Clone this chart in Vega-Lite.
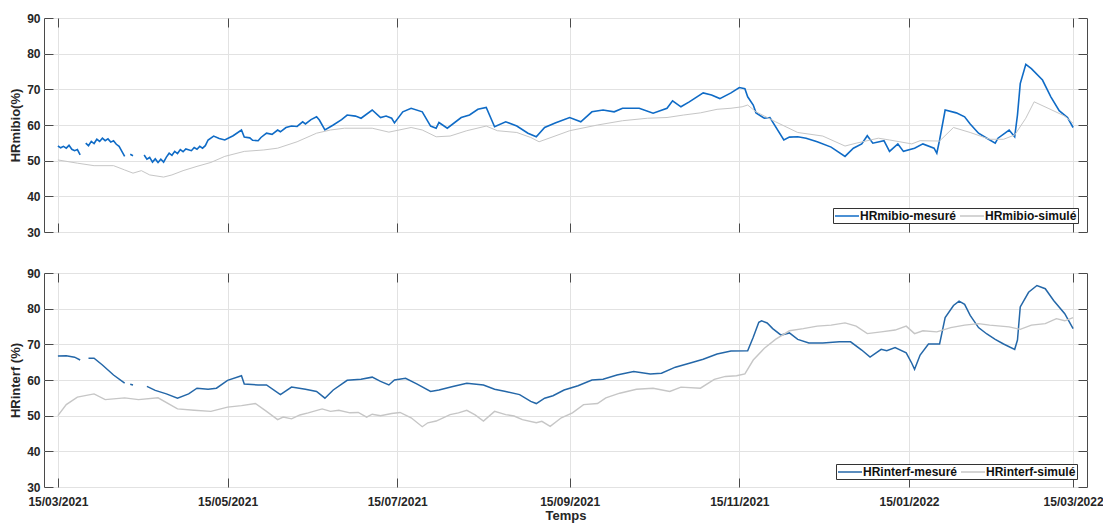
{
  "$schema": "https://vega.github.io/schema/vega-lite/v6.json",
  "background": "white",
  "padding": {"left": 9, "top": 11, "right": 5, "bottom": 2},
  "bounds": "flush",
  "spacing": 41,
  "config": {
    "font": "Liberation Sans",
    "view": {"stroke": "#4a4a4a", "strokeWidth": 1},
    "axis": {
      "domain": false,
      "gridColor": "#e2e2e2",
      "gridWidth": 1,
      "tickColor": "#4a4a4a",
      "tickSize": -9,
      "labelFont": "Liberation Sans",
      "labelFontWeight": "bold",
      "labelFontSize": 12,
      "labelColor": "#262626",
      "titleFont": "Liberation Sans",
      "titleFontWeight": "bold",
      "titleFontSize": 13,
      "titleColor": "#262626"
    },
    "legend": {
      "orient": "none",
      "direction": "horizontal",
      "gridAlign": "none",
      "symbolType": "M-1,0H3",
      "symbolSize": 144,
      "symbolStrokeWidth": 1.5,
      "labelFont": "Liberation Sans",
      "labelFontWeight": "bold",
      "labelFontSize": 12,
      "labelColor": "#111111",
      "strokeColor": "#333333",
      "fillColor": "white",
      "padding": 1,
      "columnPadding": 0,
      "labelOffset": 12
    }
  },
  "datasets": {
    "m1": [
      {"d": "2021-03-15", "v": 54.1}, {"d": "2021-03-16", "v": 53.6}, {"d": "2021-03-17", "v": 54.0}, {"d": "2021-03-18", "v": 53.5}, {"d": "2021-03-19", "v": 54.3}, {"d": "2021-03-20", "v": 53.2}, {"d": "2021-03-21", "v": 52.8}, {"d": "2021-03-22", "v": 53.1}, {"d": "2021-03-23", "v": 51.6}, {"d": "2021-03-24", "v": null},
      {"d": "2021-03-25", "v": 54.9}, {"d": "2021-03-26", "v": 54.2}, {"d": "2021-03-27", "v": 55.4}, {"d": "2021-03-28", "v": 54.8}, {"d": "2021-03-29", "v": 56.0}, {"d": "2021-03-30", "v": 55.4}, {"d": "2021-03-31", "v": 56.3}, {"d": "2021-04-01", "v": 55.6}, {"d": "2021-04-02", "v": 56.1}, {"d": "2021-04-03", "v": 55.2}, {"d": "2021-04-04", "v": 55.6}, {"d": "2021-04-05", "v": 54.6}, {"d": "2021-04-06", "v": 54.0}, {"d": "2021-04-07", "v": 52.6}, {"d": "2021-04-08", "v": 51.2}, {"d": "2021-04-09", "v": null},
      {"d": "2021-04-10", "v": 51.8}, {"d": "2021-04-11", "v": 51.4}, {"d": "2021-04-13", "v": null},
      {"d": "2021-04-15", "v": 51.6}, {"d": "2021-04-16", "v": 50.4}, {"d": "2021-04-17", "v": 50.9}, {"d": "2021-04-18", "v": 49.6}, {"d": "2021-04-19", "v": 50.5}, {"d": "2021-04-20", "v": 49.5}, {"d": "2021-04-21", "v": 50.4}, {"d": "2021-04-22", "v": 49.6}, {"d": "2021-04-23", "v": 51.0}, {"d": "2021-04-24", "v": 52.1}, {"d": "2021-04-25", "v": 51.5}, {"d": "2021-04-26", "v": 52.6}, {"d": "2021-04-27", "v": 52.0}, {"d": "2021-04-28", "v": 53.1}, {"d": "2021-04-29", "v": 52.5}, {"d": "2021-04-30", "v": 53.3},
      {"d": "2021-05-02", "v": 52.8}, {"d": "2021-05-03", "v": 53.7}, {"d": "2021-05-04", "v": 53.2}, {"d": "2021-05-05", "v": 54.0}, {"d": "2021-05-06", "v": 53.5}, {"d": "2021-05-07", "v": 54.2}, {"d": "2021-05-08", "v": 55.8}, {"d": "2021-05-10", "v": 56.9}, {"d": "2021-05-12", "v": 56.2}, {"d": "2021-05-14", "v": 55.8}, {"d": "2021-05-17", "v": 57.0}, {"d": "2021-05-20", "v": 58.6}, {"d": "2021-05-21", "v": 56.6}, {"d": "2021-05-23", "v": 56.4}, {"d": "2021-05-24", "v": 55.7}, {"d": "2021-05-26", "v": 55.6}, {"d": "2021-05-27", "v": 56.5}, {"d": "2021-05-29", "v": 57.7}, {"d": "2021-05-31", "v": 57.4},
      {"d": "2021-06-02", "v": 58.6}, {"d": "2021-06-03", "v": 58.1}, {"d": "2021-06-05", "v": 59.3}, {"d": "2021-06-07", "v": 59.7}, {"d": "2021-06-09", "v": 59.6}, {"d": "2021-06-11", "v": 60.9}, {"d": "2021-06-12", "v": 60.3}, {"d": "2021-06-14", "v": 61.5}, {"d": "2021-06-16", "v": 62.3}, {"d": "2021-06-17", "v": 61.4}, {"d": "2021-06-19", "v": 58.6}, {"d": "2021-06-22", "v": 60.0}, {"d": "2021-06-25", "v": 61.5}, {"d": "2021-06-27", "v": 62.8}, {"d": "2021-06-30", "v": 62.5},
      {"d": "2021-07-02", "v": 61.9}, {"d": "2021-07-06", "v": 64.2}, {"d": "2021-07-09", "v": 62.1}, {"d": "2021-07-11", "v": 62.5}, {"d": "2021-07-13", "v": 61.9}, {"d": "2021-07-14", "v": 60.6}, {"d": "2021-07-17", "v": 63.7}, {"d": "2021-07-20", "v": 64.7}, {"d": "2021-07-24", "v": 63.7}, {"d": "2021-07-27", "v": 59.7}, {"d": "2021-07-29", "v": 59.1}, {"d": "2021-07-30", "v": 60.7},
      {"d": "2021-08-02", "v": 59.1}, {"d": "2021-08-07", "v": 62.1}, {"d": "2021-08-10", "v": 62.8}, {"d": "2021-08-13", "v": 64.4}, {"d": "2021-08-16", "v": 64.9}, {"d": "2021-08-19", "v": 59.5}, {"d": "2021-08-23", "v": 60.9}, {"d": "2021-08-27", "v": 59.7}, {"d": "2021-08-31", "v": 57.7},
      {"d": "2021-09-03", "v": 56.7}, {"d": "2021-09-06", "v": 59.3}, {"d": "2021-09-10", "v": 60.6}, {"d": "2021-09-15", "v": 62.1}, {"d": "2021-09-19", "v": 60.9}, {"d": "2021-09-23", "v": 63.7}, {"d": "2021-09-27", "v": 64.2},
      {"d": "2021-10-01", "v": 63.7}, {"d": "2021-10-04", "v": 64.7}, {"d": "2021-10-10", "v": 64.7}, {"d": "2021-10-15", "v": 63.3}, {"d": "2021-10-20", "v": 64.7}, {"d": "2021-10-22", "v": 66.8}, {"d": "2021-10-25", "v": 65.1}, {"d": "2021-10-28", "v": 66.5},
      {"d": "2021-11-02", "v": 69.0}, {"d": "2021-11-05", "v": 68.4}, {"d": "2021-11-08", "v": 67.4}, {"d": "2021-11-12", "v": 69.0}, {"d": "2021-11-15", "v": 70.5}, {"d": "2021-11-17", "v": 70.2}, {"d": "2021-11-18", "v": 67.9}, {"d": "2021-11-20", "v": 65.6}, {"d": "2021-11-21", "v": 63.4}, {"d": "2021-11-24", "v": 61.9}, {"d": "2021-11-26", "v": 62.1},
      {"d": "2021-12-01", "v": 55.8}, {"d": "2021-12-03", "v": 56.6}, {"d": "2021-12-06", "v": 56.7}, {"d": "2021-12-09", "v": 56.3}, {"d": "2021-12-13", "v": 55.3}, {"d": "2021-12-18", "v": 53.8}, {"d": "2021-12-23", "v": 51.2}, {"d": "2021-12-26", "v": 53.5}, {"d": "2021-12-29", "v": 54.7}, {"d": "2021-12-31", "v": 57.0},
      {"d": "2022-01-02", "v": 54.9}, {"d": "2022-01-06", "v": 55.6}, {"d": "2022-01-08", "v": 52.6}, {"d": "2022-01-11", "v": 54.7}, {"d": "2022-01-13", "v": 52.6}, {"d": "2022-01-17", "v": 53.5}, {"d": "2022-01-20", "v": 54.7}, {"d": "2022-01-24", "v": 53.5}, {"d": "2022-01-25", "v": 52.1}, {"d": "2022-01-26", "v": 55.8}, {"d": "2022-01-28", "v": 64.2},
      {"d": "2022-02-01", "v": 63.4}, {"d": "2022-02-04", "v": 62.3}, {"d": "2022-02-06", "v": 60.3}, {"d": "2022-02-09", "v": 57.7}, {"d": "2022-02-12", "v": 56.3}, {"d": "2022-02-15", "v": 54.9}, {"d": "2022-02-16", "v": 56.3}, {"d": "2022-02-20", "v": 58.6}, {"d": "2022-02-22", "v": 56.7}, {"d": "2022-02-23", "v": 62.8}, {"d": "2022-02-24", "v": 71.6}, {"d": "2022-02-26", "v": 77.0}, {"d": "2022-02-28", "v": 75.8},
      {"d": "2022-03-04", "v": 72.6}, {"d": "2022-03-07", "v": 67.9}, {"d": "2022-03-10", "v": 64.0}, {"d": "2022-03-13", "v": 62.1}, {"d": "2022-03-15", "v": 59.3}
    ],
    "s1": [
      {"d": "2021-03-15", "v": 50.2}, {"d": "2021-03-22", "v": 49.3}, {"d": "2021-03-28", "v": 48.6}, {"d": "2021-04-04", "v": 48.6}, {"d": "2021-04-08", "v": 47.4}, {"d": "2021-04-11", "v": 46.5}, {"d": "2021-04-14", "v": 47.2}, {"d": "2021-04-17", "v": 46.0}, {"d": "2021-04-22", "v": 45.4}, {"d": "2021-04-25", "v": 46.0}, {"d": "2021-04-29", "v": 47.2},
      {"d": "2021-05-04", "v": 48.4}, {"d": "2021-05-09", "v": 49.5}, {"d": "2021-05-14", "v": 51.2}, {"d": "2021-05-21", "v": 52.6}, {"d": "2021-05-28", "v": 53.0}, {"d": "2021-06-02", "v": 53.5}, {"d": "2021-06-09", "v": 55.3}, {"d": "2021-06-16", "v": 57.7}, {"d": "2021-06-21", "v": 58.6}, {"d": "2021-06-26", "v": 59.1},
      {"d": "2021-07-06", "v": 59.1}, {"d": "2021-07-12", "v": 58.0}, {"d": "2021-07-20", "v": 59.3}, {"d": "2021-07-24", "v": 58.6}, {"d": "2021-07-29", "v": 56.7}, {"d": "2021-08-03", "v": 56.9}, {"d": "2021-08-09", "v": 58.4}, {"d": "2021-08-16", "v": 59.7}, {"d": "2021-08-20", "v": 58.4}, {"d": "2021-08-27", "v": 57.9},
      {"d": "2021-09-01", "v": 56.5}, {"d": "2021-09-04", "v": 55.3}, {"d": "2021-09-09", "v": 56.7}, {"d": "2021-09-15", "v": 58.4}, {"d": "2021-09-25", "v": 60.0}, {"d": "2021-10-04", "v": 61.2}, {"d": "2021-10-13", "v": 61.9}, {"d": "2021-10-20", "v": 62.1}, {"d": "2021-10-26", "v": 62.8},
      {"d": "2021-11-01", "v": 63.4}, {"d": "2021-11-07", "v": 64.4}, {"d": "2021-11-12", "v": 64.7}, {"d": "2021-11-16", "v": 65.1}, {"d": "2021-11-18", "v": 65.6}, {"d": "2021-11-21", "v": 63.7}, {"d": "2021-11-28", "v": 60.9}, {"d": "2021-12-06", "v": 57.9}, {"d": "2021-12-15", "v": 56.9}, {"d": "2021-12-23", "v": 54.1}, {"d": "2021-12-27", "v": 54.9},
      {"d": "2022-01-04", "v": 56.3}, {"d": "2022-01-08", "v": 55.8}, {"d": "2022-01-16", "v": 54.7}, {"d": "2022-01-19", "v": 55.6}, {"d": "2022-01-26", "v": 55.5}, {"d": "2022-01-31", "v": 59.3}, {"d": "2022-02-06", "v": 57.9}, {"d": "2022-02-13", "v": 56.0}, {"d": "2022-02-18", "v": 56.0}, {"d": "2022-02-22", "v": 57.2}, {"d": "2022-02-26", "v": 61.9},
      {"d": "2022-03-01", "v": 66.5}, {"d": "2022-03-06", "v": 64.7}, {"d": "2022-03-12", "v": 62.5}, {"d": "2022-03-15", "v": 60.5}
    ],
    "m2": [
      {"d": "2021-03-15", "v": 66.7}, {"d": "2021-03-18", "v": 66.8}, {"d": "2021-03-21", "v": 66.4}, {"d": "2021-03-23", "v": 65.6}, {"d": "2021-03-24", "v": null},
      {"d": "2021-03-26", "v": 66.1}, {"d": "2021-03-28", "v": 66.1}, {"d": "2021-03-31", "v": 64.2}, {"d": "2021-04-04", "v": 61.4}, {"d": "2021-04-08", "v": 59.1}, {"d": "2021-04-09", "v": null},
      {"d": "2021-04-10", "v": 58.8}, {"d": "2021-04-11", "v": 58.6}, {"d": "2021-04-13", "v": null},
      {"d": "2021-04-16", "v": 58.2}, {"d": "2021-04-19", "v": 57.1}, {"d": "2021-04-23", "v": 56.1}, {"d": "2021-04-27", "v": 54.9}, {"d": "2021-05-01", "v": 56.1}, {"d": "2021-05-04", "v": 57.7}, {"d": "2021-05-08", "v": 57.4}, {"d": "2021-05-11", "v": 57.7}, {"d": "2021-05-15", "v": 59.9}, {"d": "2021-05-20", "v": 61.2}, {"d": "2021-05-21", "v": 58.9}, {"d": "2021-05-26", "v": 58.6}, {"d": "2021-05-29", "v": 58.6},
      {"d": "2021-06-03", "v": 55.9}, {"d": "2021-06-07", "v": 58.0}, {"d": "2021-06-12", "v": 57.4}, {"d": "2021-06-16", "v": 56.8}, {"d": "2021-06-19", "v": 54.9}, {"d": "2021-06-22", "v": 57.2}, {"d": "2021-06-27", "v": 59.9},
      {"d": "2021-07-02", "v": 60.2}, {"d": "2021-07-06", "v": 60.8}, {"d": "2021-07-09", "v": 59.6}, {"d": "2021-07-12", "v": 58.6}, {"d": "2021-07-14", "v": 60.0}, {"d": "2021-07-18", "v": 60.5}, {"d": "2021-07-22", "v": 58.9}, {"d": "2021-07-27", "v": 56.8}, {"d": "2021-07-30", "v": 57.2},
      {"d": "2021-08-04", "v": 58.2}, {"d": "2021-08-09", "v": 59.1}, {"d": "2021-08-15", "v": 58.6}, {"d": "2021-08-19", "v": 57.4}, {"d": "2021-08-23", "v": 56.8}, {"d": "2021-08-28", "v": 55.9},
      {"d": "2021-09-01", "v": 54.0}, {"d": "2021-09-03", "v": 53.4}, {"d": "2021-09-06", "v": 54.9}, {"d": "2021-09-09", "v": 55.6}, {"d": "2021-09-13", "v": 57.2}, {"d": "2021-09-18", "v": 58.4}, {"d": "2021-09-23", "v": 60.0}, {"d": "2021-09-27", "v": 60.2},
      {"d": "2021-10-02", "v": 61.4}, {"d": "2021-10-08", "v": 62.4}, {"d": "2021-10-14", "v": 61.7}, {"d": "2021-10-18", "v": 61.9}, {"d": "2021-10-23", "v": 63.6}, {"d": "2021-10-29", "v": 64.9},
      {"d": "2021-11-02", "v": 65.8}, {"d": "2021-11-07", "v": 67.3}, {"d": "2021-11-12", "v": 68.1}, {"d": "2021-11-18", "v": 68.2}, {"d": "2021-11-20", "v": 72.0}, {"d": "2021-11-22", "v": 76.2}, {"d": "2021-11-23", "v": 76.6}, {"d": "2021-11-25", "v": 76.0}, {"d": "2021-11-27", "v": 74.4}, {"d": "2021-11-30", "v": 72.6},
      {"d": "2021-12-03", "v": 73.2}, {"d": "2021-12-06", "v": 71.4}, {"d": "2021-12-10", "v": 70.4}, {"d": "2021-12-15", "v": 70.4}, {"d": "2021-12-21", "v": 70.7}, {"d": "2021-12-25", "v": 70.7}, {"d": "2021-12-29", "v": 68.4},
      {"d": "2022-01-01", "v": 66.4}, {"d": "2022-01-05", "v": 68.6}, {"d": "2022-01-07", "v": 68.2}, {"d": "2022-01-10", "v": 69.1}, {"d": "2022-01-14", "v": 67.6}, {"d": "2022-01-16", "v": 64.7}, {"d": "2022-01-17", "v": 63.0}, {"d": "2022-01-19", "v": 67.0}, {"d": "2022-01-22", "v": 70.1}, {"d": "2022-01-26", "v": 70.1}, {"d": "2022-01-28", "v": 77.5}, {"d": "2022-01-31", "v": 80.9},
      {"d": "2022-02-02", "v": 82.1}, {"d": "2022-02-04", "v": 81.2}, {"d": "2022-02-06", "v": 78.1}, {"d": "2022-02-09", "v": 74.7}, {"d": "2022-02-12", "v": 72.9}, {"d": "2022-02-15", "v": 71.4}, {"d": "2022-02-18", "v": 70.1}, {"d": "2022-02-22", "v": 68.6}, {"d": "2022-02-23", "v": 71.2}, {"d": "2022-02-24", "v": 80.5}, {"d": "2022-02-27", "v": 84.6},
      {"d": "2022-03-02", "v": 86.5}, {"d": "2022-03-05", "v": 85.6}, {"d": "2022-03-08", "v": 82.3}, {"d": "2022-03-12", "v": 78.6}, {"d": "2022-03-15", "v": 74.4}
    ],
    "s2": [
      {"d": "2021-03-15", "v": 50.0}, {"d": "2021-03-18", "v": 53.1}, {"d": "2021-03-22", "v": 55.2}, {"d": "2021-03-28", "v": 56.1}, {"d": "2021-04-01", "v": 54.5}, {"d": "2021-04-08", "v": 55.0}, {"d": "2021-04-13", "v": 54.5}, {"d": "2021-04-20", "v": 55.0}, {"d": "2021-04-27", "v": 51.9},
      {"d": "2021-05-03", "v": 51.5}, {"d": "2021-05-09", "v": 51.2}, {"d": "2021-05-15", "v": 52.4}, {"d": "2021-05-20", "v": 52.8}, {"d": "2021-05-25", "v": 53.4}, {"d": "2021-05-29", "v": 51.2},
      {"d": "2021-06-02", "v": 48.9}, {"d": "2021-06-04", "v": 49.6}, {"d": "2021-06-07", "v": 49.1}, {"d": "2021-06-10", "v": 50.2}, {"d": "2021-06-13", "v": 50.8}, {"d": "2021-06-18", "v": 51.9}, {"d": "2021-06-21", "v": 51.2}, {"d": "2021-06-24", "v": 51.5}, {"d": "2021-06-28", "v": 50.8},
      {"d": "2021-07-01", "v": 50.9}, {"d": "2021-07-04", "v": 49.6}, {"d": "2021-07-06", "v": 50.4}, {"d": "2021-07-09", "v": 50.0}, {"d": "2021-07-13", "v": 50.6}, {"d": "2021-07-16", "v": 50.9}, {"d": "2021-07-20", "v": 49.4}, {"d": "2021-07-24", "v": 46.9}, {"d": "2021-07-26", "v": 48.0}, {"d": "2021-07-29", "v": 48.5},
      {"d": "2021-08-03", "v": 50.3}, {"d": "2021-08-06", "v": 50.8}, {"d": "2021-08-09", "v": 51.5}, {"d": "2021-08-12", "v": 50.2}, {"d": "2021-08-15", "v": 48.5}, {"d": "2021-08-19", "v": 51.2}, {"d": "2021-08-23", "v": 50.3}, {"d": "2021-08-26", "v": 49.9}, {"d": "2021-08-29", "v": 48.9},
      {"d": "2021-09-03", "v": 48.0}, {"d": "2021-09-05", "v": 48.4}, {"d": "2021-09-08", "v": 47.0}, {"d": "2021-09-12", "v": 49.4}, {"d": "2021-09-16", "v": 50.8}, {"d": "2021-09-20", "v": 53.1}, {"d": "2021-09-25", "v": 53.4}, {"d": "2021-09-28", "v": 55.0},
      {"d": "2021-10-03", "v": 56.3}, {"d": "2021-10-09", "v": 57.4}, {"d": "2021-10-15", "v": 57.7}, {"d": "2021-10-21", "v": 56.8}, {"d": "2021-10-25", "v": 58.0},
      {"d": "2021-11-01", "v": 57.7}, {"d": "2021-11-06", "v": 60.2}, {"d": "2021-11-10", "v": 61.0}, {"d": "2021-11-14", "v": 61.2}, {"d": "2021-11-17", "v": 61.7}, {"d": "2021-11-20", "v": 65.6}, {"d": "2021-11-24", "v": 68.9}, {"d": "2021-11-28", "v": 71.4},
      {"d": "2021-12-03", "v": 73.8}, {"d": "2021-12-08", "v": 74.4}, {"d": "2021-12-13", "v": 75.1}, {"d": "2021-12-18", "v": 75.4}, {"d": "2021-12-23", "v": 76.0}, {"d": "2021-12-27", "v": 75.1}, {"d": "2021-12-31", "v": 73.0},
      {"d": "2022-01-05", "v": 73.5}, {"d": "2022-01-10", "v": 74.0}, {"d": "2022-01-14", "v": 75.1}, {"d": "2022-01-17", "v": 73.0}, {"d": "2022-01-20", "v": 73.8}, {"d": "2022-01-25", "v": 73.5}, {"d": "2022-01-30", "v": 74.7},
      {"d": "2022-02-04", "v": 75.4}, {"d": "2022-02-09", "v": 75.8}, {"d": "2022-02-13", "v": 75.4}, {"d": "2022-02-20", "v": 74.9}, {"d": "2022-02-24", "v": 74.2}, {"d": "2022-02-28", "v": 75.4},
      {"d": "2022-03-05", "v": 75.8}, {"d": "2022-03-09", "v": 77.2}, {"d": "2022-03-12", "v": 76.6}, {"d": "2022-03-15", "v": 77.5}
    ]
  },
  "vconcat": [
    {
      "width": 1043,
      "height": 214,
      "layer": [
        {
          "data": {"name": "m1"},
          "mark": {"type": "line", "strokeWidth": 1.6, "invalid": "break-paths-show-domains"},
          "encoding": {
            "x": {"field": "d", "type": "temporal",
              "scale": {"type": "utc", "nice": false, "domain": [{"year": 2021, "month": 3, "date": 10, "utc": true}, {"year": 2022, "month": 3, "date": 20, "utc": true}]},
              "axis": {"orient": "bottom", "title": null, "labels": false, "grid": true,
                "values": [{"year": 2021, "month": 3, "date": 15, "utc": true}, {"year": 2021, "month": 5, "date": 15, "utc": true}, {"year": 2021, "month": 7, "date": 15, "utc": true}, {"year": 2021, "month": 9, "date": 15, "utc": true}, {"year": 2021, "month": 11, "date": 15, "utc": true}, {"year": 2022, "month": 1, "date": 15, "utc": true}, {"year": 2022, "month": 3, "date": 15, "utc": true}]}},
            "y": {"field": "v", "type": "quantitative", "scale": {"domain": [30, 90], "nice": false},
              "axis": {"orient": "left", "title": "HRmibio(%)", "grid": true, "values": [30, 40, 50, 60, 70, 80, 90], "labelPadding": 13, "titlePadding": 4}},
            "color": {"datum": "HRmibio-mesuré", "type": "nominal",
              "scale": {"domain": ["HRmibio-mesuré", "HRmibio-simulé"], "range": ["#0f6bc6", "#c6c6c6"]},
              "legend": {"title": null, "legendX": 789, "legendY": 190}}
          }
        },
        {
          "data": {"name": "s1"},
          "mark": {"type": "line", "strokeWidth": 1},
          "encoding": {
            "x": {"field": "d", "type": "temporal", "axis": null},
            "y": {"field": "v", "type": "quantitative", "axis": null},
            "color": {"datum": "HRmibio-simulé", "type": "nominal"}
          }
        },
        {
          "data": {"name": "s1"},
          "mark": {"type": "line", "opacity": 0},
          "encoding": {
            "x": {"field": "d", "type": "temporal",
              "axis": {"orient": "top", "title": null, "labels": false, "grid": false,
                "values": [{"year": 2021, "month": 3, "date": 15, "utc": true}, {"year": 2021, "month": 5, "date": 15, "utc": true}, {"year": 2021, "month": 7, "date": 15, "utc": true}, {"year": 2021, "month": 9, "date": 15, "utc": true}, {"year": 2021, "month": 11, "date": 15, "utc": true}, {"year": 2022, "month": 1, "date": 15, "utc": true}, {"year": 2022, "month": 3, "date": 15, "utc": true}]}},
            "y": {"field": "v", "type": "quantitative",
              "axis": {"orient": "right", "title": null, "labels": false, "grid": false, "values": [30, 40, 50, 60, 70, 80, 90]}}
          }
        }
      ],
      "resolve": {"axis": {"x": "independent", "y": "independent"}}
    },
    {
      "width": 1043,
      "height": 214,
      "layer": [
        {
          "data": {"name": "m2"},
          "mark": {"type": "line", "strokeWidth": 1.5, "invalid": "break-paths-show-domains"},
          "encoding": {
            "x": {"field": "d", "type": "temporal",
              "scale": {"type": "utc", "nice": false, "domain": [{"year": 2021, "month": 3, "date": 10, "utc": true}, {"year": 2022, "month": 3, "date": 20, "utc": true}]},
              "axis": {"orient": "bottom", "title": "Temps", "labels": true, "labelFlush": false, "grid": true, "labelExpr": "utcFormat(datum.value, '%d/%m/%Y')", "labelPadding": 18, "titlePadding": 2,
                "values": [{"year": 2021, "month": 3, "date": 15, "utc": true}, {"year": 2021, "month": 5, "date": 15, "utc": true}, {"year": 2021, "month": 7, "date": 15, "utc": true}, {"year": 2021, "month": 9, "date": 15, "utc": true}, {"year": 2021, "month": 11, "date": 15, "utc": true}, {"year": 2022, "month": 1, "date": 15, "utc": true}, {"year": 2022, "month": 3, "date": 15, "utc": true}]}},
            "y": {"field": "v", "type": "quantitative", "scale": {"domain": [30, 90], "nice": false},
              "axis": {"orient": "left", "title": "HRinterf (%)", "grid": true, "values": [30, 40, 50, 60, 70, 80, 90], "labelPadding": 13, "titlePadding": 4}},
            "color": {"datum": "HRinterf-mesuré", "type": "nominal",
              "scale": {"domain": ["HRinterf-mesuré", "HRinterf-simulé"], "range": ["#2467a8", "#c6c6c6"]},
              "legend": {"title": null, "legendX": 792, "legendY": 191}}
          }
        },
        {
          "data": {"name": "s2"},
          "mark": {"type": "line", "strokeWidth": 1.4},
          "encoding": {
            "x": {"field": "d", "type": "temporal", "axis": null},
            "y": {"field": "v", "type": "quantitative", "axis": null},
            "color": {"datum": "HRinterf-simulé", "type": "nominal"}
          }
        },
        {
          "data": {"name": "s2"},
          "mark": {"type": "line", "opacity": 0},
          "encoding": {
            "x": {"field": "d", "type": "temporal",
              "axis": {"orient": "top", "title": null, "labels": false, "grid": false,
                "values": [{"year": 2021, "month": 3, "date": 15, "utc": true}, {"year": 2021, "month": 5, "date": 15, "utc": true}, {"year": 2021, "month": 7, "date": 15, "utc": true}, {"year": 2021, "month": 9, "date": 15, "utc": true}, {"year": 2021, "month": 11, "date": 15, "utc": true}, {"year": 2022, "month": 1, "date": 15, "utc": true}, {"year": 2022, "month": 3, "date": 15, "utc": true}]}},
            "y": {"field": "v", "type": "quantitative",
              "axis": {"orient": "right", "title": null, "labels": false, "grid": false, "values": [30, 40, 50, 60, 70, 80, 90]}}
          }
        }
      ],
      "resolve": {"axis": {"x": "independent", "y": "independent"}}
    }
  ],
  "resolve": {"scale": {"color": "independent"}}
}
